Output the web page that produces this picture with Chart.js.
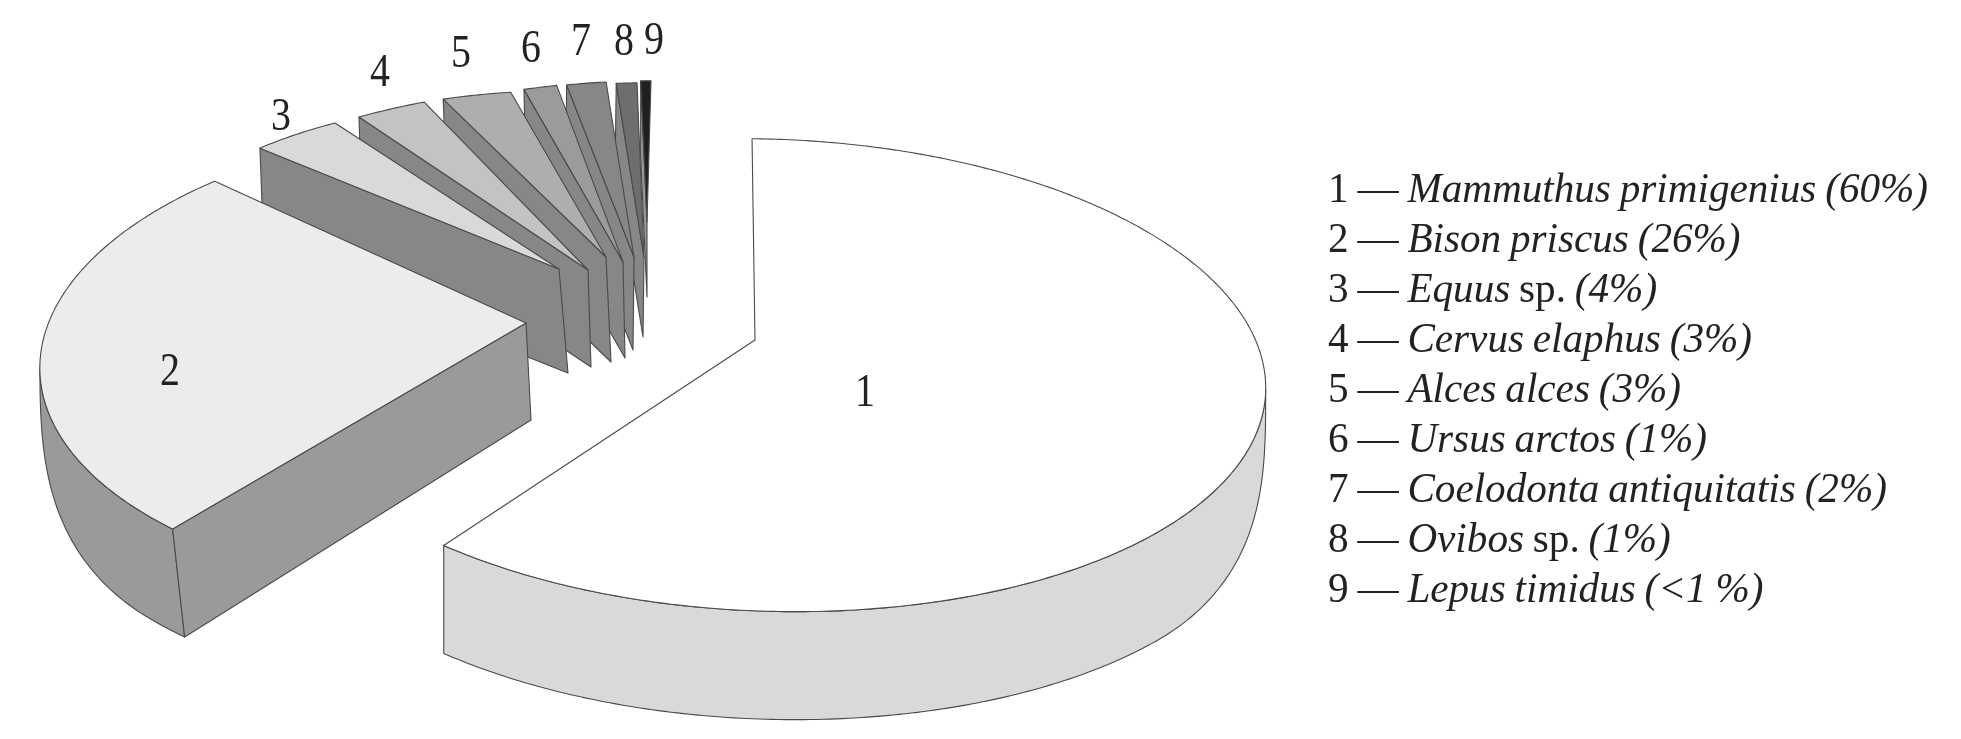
<!DOCTYPE html>
<html>
<head>
<meta charset="utf-8">
<title>Fauna composition</title>
<script src="https://cdn.jsdelivr.net/npm/chart.js@4"></script>
<style>
  html, body { margin: 0; padding: 0; background: #fff; }
  #wrap { position: relative; width: 1961px; height: 739px; overflow: hidden; font-family: "Liberation Serif", serif; color: #222; }
  #pie { position: absolute; left: 0; top: 0; }
  .num { position: absolute; font-size: 47px; line-height: 1; transform: translate(-50%, -50%) scaleX(0.85); }
  #legend { position: absolute; left: 1328px; top: 163px; transform-origin: 0 0; transform: scaleX(0.98); white-space: nowrap; word-spacing: -1.5px; }
  #legend div { height: 50px; line-height: 50px; font-size: 42px; }
</style>
</head>
<body>
<div id="wrap">
  <canvas id="pie" width="1961" height="739"></canvas>
  <div id="legend"></div>
</div>
<script>
const sliceIds = ['1', '2', '3', '4', '5', '6', '7', '8', '9'];
const species = ['Mammuthus primigenius', 'Bison priscus', 'Equus', 'Cervus elaphus', 'Alces alces', 'Ursus arctos', 'Coelodonta antiquitatis', 'Ovibos', 'Lepus timidus'];
const suffixes = ['', '', ' sp.', '', '', '', '', ' sp.', ''];
const percentLabels = ['(60%)', '(26%)', '(4%)', '(3%)', '(3%)', '(1%)', '(2%)', '(1%)', '(<1 %)'];
const shares = [60, 26, 4, 3, 3, 1, 2, 1, 0.5];

const topColors = ['#ffffff', '#ececec', '#d9d9d9', '#c3c3c3', '#aeaeae', '#9b9b9b', '#878787', '#6e6e6e', '#1f1f1f'];
const wallColors = ['#d9d9d9', '#9a9a9a', '#878787', '#878787', '#878787', '#878787', '#878787', '#878787', '#999999'];

// number labels on the picture, [x, y] of the glyph centre
const labelSpots = [[865, 390], [170, 369], [281, 114], [380, 70], [461, 51], [531, 46], [581, 39], [624, 39], [654, 38]];

// Each exploded slice has its own projection of the pie plane to the page.
// dx/h: drop of the rim, adx/ah: drop at the slice tip
const PERSP = 0.1477;
const frames = [
  { x: 755, y: 340, a: 491, b: 3.4, c: 10, d: 231, m: -0.0266, dx: 0, h: 108, adx: 0, ah: 108 },
  { x: 526, y: 323, a: 470.6, b: -50.2, c: 15.3, d: 231.5, m: 0, dx: 12, h: 108, adx: 5, ah: 97 },
  { x: 559, y: 269, a: 421, b: -8.4, c: 15.9, d: 193.6, m: 0, dx: 4, h: 104, adx: 9, ah: 104 },
  { x: 588, y: 270, a: 436.7, b: -13.5, c: 9.9, d: 208, m: 0, dx: 3, h: 97, adx: 3, ah: 97 },
  { x: 606, y: 257, a: 428.8, b: -10.7, c: 20.3, d: 190, m: 0, dx: 4, h: 105, adx: 5, ah: 105 },
  { x: 623, y: 262, a: 600, b: -55.7, c: -27, d: 213, m: 0, dx: 2, h: 96, adx: 2, ah: 96 },
  { x: 634, y: 257, a: 365, b: -2.2, c: 0, d: 201.6, m: 0, dx: -1, h: 93, adx: -1, ah: 93 },
  { x: 644, y: 257, a: 382, b: -3.9, c: 0, d: 200, m: 0, dx: -1, h: 80, adx: -1, ah: 80 },
  { x: 647, y: 222, a: 380, b: -4.6, c: 0, d: 162, m: 0, dx: 0, h: 75, adx: 0, ah: 75 }
];
const ROUND_OFF = 35 * Math.PI / 180; // wall height rounds off over this angle at the pie's side

function project(f, angle, r) {
  const u = Math.cos(angle) * r, v = Math.sin(angle) * r;
  const w = 1 + f.m * u - PERSP * v;
  return { x: f.x + (f.a * u + f.b * v) / w, y: f.y + (f.c * u + f.d * v) / w };
}

function paint(ctx, pts, fill) {
  ctx.beginPath();
  pts.forEach((p, i) => i ? ctx.lineTo(p.x, p.y) : ctx.moveTo(p.x, p.y));
  ctx.closePath();
  ctx.fillStyle = fill;
  ctx.fill();
  ctx.stroke();
}

function drawSlice(ctx, arc, i) {
  const f = frames[i];
  const sweep = arc.endAngle - arc.startAngle;
  const n = Math.max(6, Math.round(sweep * 90));
  const step = sweep / n;
  const rim = [];
  for (let k = 0; k <= n; k++) rim.push(project(f, arc.startAngle + step * k, 1));
  const apex = project(f, 0, 0);

  // outer wall: only the run of the rim that moves leftwards faces the viewer
  const run = [];
  for (let k = 0; k <= n; k++) {
    const facing = (k < n && rim[k + 1].x < rim[k].x) || (k > 0 && rim[k].x < rim[k - 1].x);
    if (facing) run.push(rim[k]);
  }
  if (run.length > 1) {
    const last = run.length - 1;
    const lower = run.map((p, k) => {
      // slice 1 turns the corner at the start of its run, slice 2 at the end
      const fromSide = (i === 0 ? k : last - k) * step;
      const q = Math.max(0, 1 - fromSide / ROUND_OFF);
      const t = i === 1 ? 1 - k / last : 1;
      return { x: p.x + f.dx * t, y: p.y + f.h * Math.sqrt(1 - q * q) };
    });
    paint(ctx, run.concat(lower.reverse()), wallColors[i]);
  }

  // the first radial wall is hidden on the large slice
  if (i > 0) {
    paint(ctx, [rim[0], apex, { x: apex.x + f.adx, y: apex.y + f.ah }, { x: rim[0].x + f.dx, y: rim[0].y + f.h }], wallColors[i]);
  }

  paint(ctx, [apex].concat(rim), topColors[i]);
}

const exploded3d = {
  id: 'exploded3d',
  beforeDatasetDraw() { return false; },
  afterDraw(chart) {
    const ctx = chart.ctx;
    const arcs = chart.getDatasetMeta(0).data;
    ctx.save();
    ctx.lineWidth = 1.1;
    ctx.lineJoin = 'round';
    ctx.strokeStyle = '#4a4a4a';
    [8, 7, 6, 5, 4, 3, 2, 1, 0].forEach(i => drawSlice(ctx, arcs[i], i));
    ctx.restore();
  }
};

new Chart(document.getElementById('pie'), {
  type: 'pie',
  data: { labels: species, datasets: [{ data: shares, backgroundColor: topColors }] },
  options: {
    responsive: false,
    animation: false,
    events: [],
    plugins: { legend: { display: false }, tooltip: { enabled: false } }
  },
  plugins: [exploded3d]
});

const wrap = document.getElementById('wrap');
sliceIds.forEach((id, i) => {
  const el = document.createElement('div');
  el.className = 'num';
  el.textContent = id;
  el.style.left = labelSpots[i][0] + 'px';
  el.style.top = labelSpots[i][1] + 'px';
  wrap.appendChild(el);
});

const legend = document.getElementById('legend');
species.forEach((name, i) => {
  const row = document.createElement('div');
  row.append(sliceIds[i] + ' \u2014 ');
  const it = document.createElement('i');
  it.textContent = name;
  row.appendChild(it);
  if (suffixes[i]) row.append(suffixes[i]);
  row.append(' ');
  const pct = document.createElement('i');
  pct.textContent = percentLabels[i];
  row.appendChild(pct);
  legend.appendChild(row);
});
</script>
</body>
</html>
